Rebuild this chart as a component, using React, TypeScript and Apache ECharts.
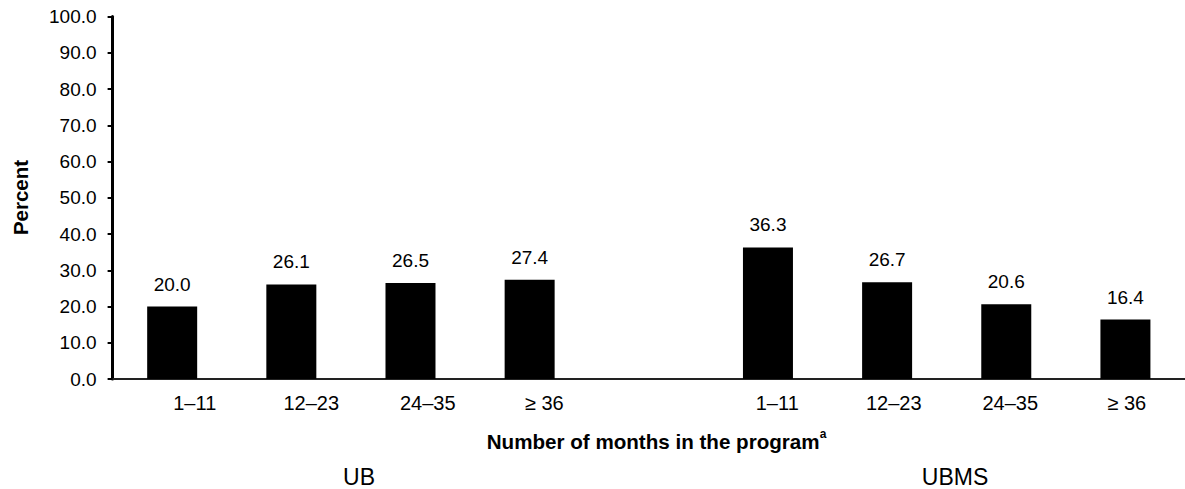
import React, { useEffect, useRef } from "react";
import * as echarts from "echarts";

// ---- data ----
const monthBands = ["1–11", "12–23", "24–35", "≥ 36"];
const ubValues = [20.0, 26.1, 26.5, 27.4];
const ubmsValues = [36.3, 26.7, 20.6, 16.4];
const groupNames = ["UB", "UBMS"];
const yMin = 0;
const yMax = 100;
const yInterval = 10;
const axisTitle = "Number of months in the program";
const axisTitleNote = "a";
const yTitle = "Percent";

const categories = [...monthBands, "", ...monthBands];
const values: (number | string)[] = [...ubValues, "-", ...ubmsValues];

const FONT = "'Liberation Sans', Arial, Helvetica, sans-serif";

export default function App() {
  const ref = useRef<HTMLDivElement>(null);
  useEffect(() => {
    if (!ref.current) return;
    const chart = echarts.init(ref.current, null, { renderer: "svg" });
    chart.setOption({
      animation: false,
      backgroundColor: "#ffffff",
      textStyle: { fontFamily: FONT, color: "#000" },
      grid: [
        { left: 112.6, top: 16.5, width: 1078, height: 362.5 },
        { left: 136.5, top: 16.5, width: 1052, height: 362.5 },
      ],
      xAxis: [
        {
          type: "category",
          gridIndex: 0,
          data: categories,
          axisLine: { show: true, lineStyle: { color: "#222", width: 2 } },
          axisTick: { show: false },
          axisLabel: { show: false },
          splitLine: { show: false },
        },
        {
          type: "category",
          gridIndex: 1,
          data: categories,
          axisLine: { show: false },
          axisTick: { show: false },
          axisLabel: {
            show: true,
            interval: 0,
            margin: 14,
            fontSize: 20,
            fontFamily: FONT,
            color: "#000",
          },
          splitLine: { show: false },
        },
      ],
      yAxis: [
        {
          type: "value",
          gridIndex: 0,
          min: yMin,
          max: yMax,
          interval: yInterval,
          axisLine: { show: true, lineStyle: { color: "#000", width: 3 } },
          axisTick: { show: true, length: 5, lineStyle: { color: "#000", width: 2 } },
          axisLabel: {
            margin: 16,
            fontSize: 19,
            fontFamily: FONT,
            color: "#000",
            formatter: (v: number) => v.toFixed(1),
          },
          splitLine: { show: false },
        },
        {
          type: "value",
          gridIndex: 1,
          min: yMin,
          max: yMax,
          show: false,
        },
      ],
      series: [
        {
          type: "bar",
          xAxisIndex: 0,
          yAxisIndex: 0,
          data: values,
          barWidth: 50,
          itemStyle: { color: "#000" },
          label: {
            show: true,
            position: "top",
            distance: 13,
            fontSize: 19,
            fontFamily: FONT,
            color: "#000",
            formatter: (p: any) => Number(p.value).toFixed(1),
          },
        },
      ],
      graphic: [
        {
          type: "text",
          x: 20,
          y: 197.5,
          rotation: Math.PI / 2,
          style: {
            text: yTitle,
            font: `bold 20.5px ${FONT}`,
            fill: "#000",
            align: "center",
            verticalAlign: "middle",
          },
        },
        {
          type: "text",
          x: 656.5,
          y: 441.5,
          style: {
            text: `{t|${axisTitle}}{s|${axisTitleNote}}`,
            align: "center",
            verticalAlign: "middle",
            fill: "#000",
            rich: {
              t: { fontSize: 20.6, fontWeight: "bold", fontFamily: FONT, lineHeight: 28, fill: "#000" },
              s: { fontSize: 12, fontWeight: "bold", fontFamily: FONT, lineHeight: 12, verticalAlign: "top", fill: "#000" },
            },
          },
        },
        {
          type: "text",
          x: 359,
          y: 476.5,
          style: {
            text: groupNames[0],
            font: `23px ${FONT}`,
            fill: "#000",
            align: "center",
            verticalAlign: "middle",
          },
        },
        {
          type: "text",
          x: 955,
          y: 476.5,
          style: {
            text: groupNames[1],
            font: `23px ${FONT}`,
            fill: "#000",
            align: "center",
            verticalAlign: "middle",
          },
        },
      ],
    });
    return () => chart.dispose();
  }, []);
  return (
    <div
      ref={ref}
      style={{ position: "absolute", left: 0, top: 0, width: 1185, height: 489 }}
    />
  );
}
